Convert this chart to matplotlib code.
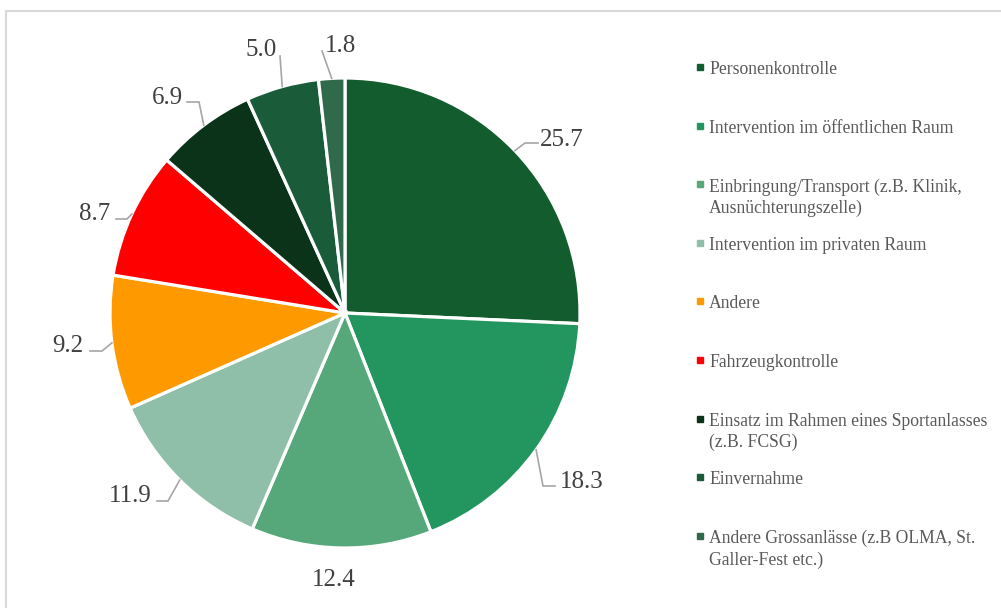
import numpy as np
import matplotlib
matplotlib.use("Agg")
import matplotlib.pyplot as plt

plt.rcParams['font.family'] = ['Liberation Serif', 'DejaVu Serif']

# data
categories = [
    "Personenkontrolle",
    "Intervention im öffentlichen Raum",
    "Einbringung/Transport (z.B. Klinik,\nAusnüchterungszelle)",
    "Intervention im privaten Raum",
    "Andere",
    "Fahrzeugkontrolle",
    "Einsatz im Rahmen eines Sportanlasses\n(z.B. FCSG)",
    "Einvernahme",
    "Andere Grossanlässe (z.B OLMA, St.\nGaller-Fest etc.)",
]
values = [25.7, 18.3, 12.4, 11.9, 9.2, 8.7, 6.9, 5.0, 1.8]
colors = ['#125C2E', '#23955E', '#56A77A', '#8FBFA8', '#FF9900',
          '#FF0000', '#0B3319', '#1A5C3A', '#2F6A4A']

# label layout in image pixels (x, y from top)
label_pos = [(562, 137), (582, 479), (334, 578), (130, 493), (68, 343),
             (95, 212), (167, 95), (261, 48), (340, 44)]
leader_end = [(538, 143), (555, 486), None, (157, 501), (90, 351),
              (116, 219), (187, 102), (280, 56), (322, 51)]
leader_knee = [(525, 143), (543, 486), None, (168, 501), (102, 351),
               (127, 219), (199, 102), None, None]

W, H = 1001, 608
fig = plt.figure(figsize=(W / 100, H / 100), dpi=100)
ax = fig.add_axes([0, 0, 1, 1])


def Y(y):
    return H - y


cx, cy, r = 345, Y(313), 235
wedges, _ = ax.pie(values, colors=colors, startangle=90, counterclock=False,
                   center=(cx, cy), radius=r, frame=True,
                   wedgeprops=dict(edgecolor='white', linewidth=2.3))

for i, w in enumerate(wedges):
    mid = np.deg2rad((w.theta1 + w.theta2) / 2)
    ex = cx + r * np.cos(mid)
    ey = cy + r * np.sin(mid)
    lx, ly = label_pos[i]
    ax.text(lx, Y(ly + 2.5), f"{values[i]:.1f}", ha='center', va='center',
            fontsize=18, color='#404040')
    if leader_end[i] is not None:
        xs = [leader_end[i][0]]
        ys = [Y(leader_end[i][1])]
        if leader_knee[i] is not None:
            xs.append(leader_knee[i][0])
            ys.append(Y(leader_knee[i][1]))
        xs.append(ex)
        ys.append(ey)
        ax.plot(xs, ys, color='#A6A6A6', lw=1.2, solid_joinstyle='miter')

# legend
leg_y0, leg_step = 67, 58.6
for i, lab in enumerate(categories):
    yy = leg_y0 + i * leg_step
    ax.plot([700], [Y(yy)], marker='s', ms=5, color=colors[i], ls='none')
    ax.text(709, Y(yy) + 6, lab, ha='left', va='top', fontsize=12.7,
            color='#595959', linespacing=1.32)

# outer border
ax.plot([5.5, 5.5, W + 5], [-5, Y(10.5), Y(10.5)], color='#D9D9D9', lw=1.5)

ax.set_xlim(0, W)
ax.set_ylim(0, H)
ax.set_aspect('equal')
ax.axis('off')

fig.savefig('out.png', dpi=100)
